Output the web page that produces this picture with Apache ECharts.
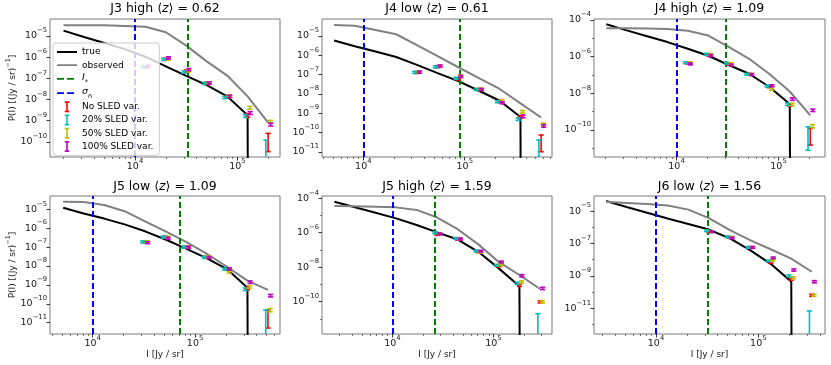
<!DOCTYPE html>
<html>
<head>
<meta charset="utf-8">
<script src="https://cdn.jsdelivr.net/npm/echarts@6/dist/echarts.min.js"></script>
<style>
  html, body { margin: 0; padding: 0; background: #fff; }
  #chart { width: 831px; height: 365px; }
</style>
</head>
<body>
<div id="chart"></div>
<script>
// ---- values (one row per panel) ----
const panelNames = ['J3 high', 'J4 low', 'J4 high', 'J5 low', 'J5 high', 'J6 low'];
const meanZ = ['0.62', '0.61', '1.09', '1.09', '1.59', '1.56'];

// intensity bins, Jy/sr
const binI = [
  [2000, 3170, 5020, 7960, 12600, 20000, 31700, 50200, 79600, 126000, 200000],
  [5150, 8240, 13200, 21100, 33800, 54000, 86400, 138000, 221000, 354000, 566000],
  [2050, 3250, 5150, 8150, 12900, 20500, 32500, 51500, 81500, 129000, 205000],
  [5150, 8170, 12950, 20500, 32500, 51500, 81700, 129500, 205000, 325000, 516000],
  [2670, 4270, 6820, 10900, 17400, 27800, 44400, 71000, 113000, 181000, 290000],
  [3250, 5160, 8200, 13000, 20700, 32900, 52300, 83100, 132000, 210000, 333000]
];
// P(I) true
const pTrue = [
  [1.8e-5, 8.9e-6, 4.7e-6, 2.4e-6, 1.05e-6, 3.7e-7, 1.3e-7, 4.8e-8, 1.4e-8, 1.8e-9, 0],
  [5.8e-6, 2.95e-6, 1.58e-6, 8.1e-7, 3.2e-7, 1.2e-7, 4.6e-8, 1.45e-8, 4.4e-9, 6.3e-10, 0],
  [5.8e-5, 2.7e-5, 1.3e-5, 6.2e-6, 2.7e-6, 1.12e-6, 3.5e-7, 1.17e-7, 2.2e-8, 2.6e-9, 0],
  [1.2e-5, 6.0e-6, 3.2e-6, 1.58e-6, 6.8e-7, 2.5e-7, 8.3e-8, 2.6e-8, 6.8e-9, 7.1e-10, 0],
  [6.3e-5, 3.0e-5, 1.45e-5, 6.8e-6, 2.8e-6, 1.05e-6, 4.0e-7, 7.8e-8, 8.5e-9, 7.9e-10, 0],
  [4.2e-5, 1.8e-5, 7.9e-6, 3.5e-6, 1.58e-6, 7.2e-7, 2.1e-7, 3.9e-8, 5.5e-9, 4.4e-10, 0]
];
// P(I) observed
const pObs = [
  [3.2e-5, 3.2e-5, 3.2e-5, 3.0e-5, 2.75e-5, 1.5e-5, 3.5e-6, 6.3e-7, 1.35e-7, 1.4e-8, 8e-10],
  [3.7e-5, 3.4e-5, 2.05e-5, 1.23e-5, 3.4e-6, 9.1e-7, 2.4e-7, 6.6e-8, 1.8e-8, 3.2e-9, 6.0e-10],
  [3.5e-5, 3.5e-5, 3.4e-5, 3.2e-5, 2.6e-5, 1.4e-5, 3.4e-6, 7.6e-7, 1.12e-7, 1.26e-8, 6.3e-10],
  [2.5e-5, 2.4e-5, 1.66e-5, 7.9e-6, 2.3e-6, 6.8e-7, 1.86e-7, 4.5e-8, 9.1e-9, 1.66e-9, 5.4e-10],
  [3.5e-5, 3.4e-5, 3.2e-5, 2.95e-5, 2.1e-5, 7.6e-6, 1.6e-6, 2.1e-7, 2.0e-8, 3.5e-9, 5.4e-10],
  [3.7e-5, 3.2e-5, 2.75e-5, 2.2e-5, 1.23e-5, 3.7e-6, 6.9e-7, 1.6e-7, 4.4e-8, 1.17e-8, 1.8e-9]
];
const iStar = [33200, 89800, 29900, 71300, 26500, 32500];
const sigmaN = [1e4, 1e4, 1e4, 1e4, 1e4, 1e4];

// error bars start at this bin index
const errFrom = [4, 4, 4, 4, 5, 5];
const sledNone = [
  [3.5e-7, 8.1e-7, 2.2e-7, 5.8e-8, 1.35e-8, 1.8e-9, 1.42e-10],
  [1.3e-7, 2.6e-7, 6.0e-8, 1.7e-8, 4.0e-9, 6.5e-10, 4.2e-11],
  [4.5e-7, 1.3e-6, 4.0e-7, 1.1e-7, 2.3e-8, 2.35e-9, 6.9e-11],
  [1.9e-7, 3.4e-7, 1.0e-7, 2.9e-8, 7.0e-9, 6.6e-10, 2.6e-11],
  [8.0e-7, 4.2e-7, 8.0e-8, 1.2e-8, 9.1e-10, 9.8e-11],
  [5.5e-7, 2.4e-7, 5.7e-8, 6.8e-9, 6.3e-10, 6.4e-11]
];
const sledNoneRel = [
  [0.12, 0.12, 0.12, 0.12, 0.12, 0.2, 0.76],
  [0.12, 0.12, 0.12, 0.12, 0.12, 0.15, 0.76],
  [0.12, 0.12, 0.12, 0.12, 0.12, 0.15, 0.78],
  [0.12, 0.12, 0.12, 0.12, 0.12, 0.15, 0.8],
  [0.12, 0.12, 0.12, 0.12, 0.15, 0.15],
  [0.12, 0.12, 0.12, 0.12, 0.15, 0.15]
];
const sled20 = [
  [3.5e-7, 7.9e-7, 2.0e-7, 5.8e-8, 1.25e-8, 1.65e-9, 6e-11],
  [1.3e-7, 2.5e-7, 6.5e-8, 1.7e-8, 4.0e-9, 5.0e-10, 2.05e-11],
  [4.7e-7, 1.35e-6, 4.4e-7, 1.1e-7, 2.5e-8, 2.6e-9, 7.9e-11],
  [1.9e-7, 3.4e-7, 1.0e-7, 2.9e-8, 6.9e-9, 5.9e-10, 2.35e-11],
  [1.0e-6, 4.7e-7, 8.7e-8, 1.3e-8, 1.15e-9, 1.0e-11],
  [6.2e-7, 2.6e-7, 5.8e-8, 8.5e-9, 1.0e-9, 3.4e-12]
];
const sled20Rel = [
  [0.12, 0.12, 0.12, 0.12, 0.12, 0.15, 1.0],
  [0.12, 0.12, 0.12, 0.12, 0.12, 0.15, 1.0],
  [0.12, 0.12, 0.12, 0.12, 0.12, 0.15, 0.9],
  [0.12, 0.12, 0.12, 0.12, 0.12, 0.15, 1.0],
  [0.12, 0.12, 0.12, 0.12, 0.15, 1.0],
  [0.12, 0.12, 0.12, 0.12, 0.15, 1.0]
];
const sled50 = [
  [3.6e-7, 8.3e-7, 2.3e-7, 6.0e-8, 1.5e-8, 4.1e-9, 8.9e-10],
  [1.35e-7, 2.7e-7, 8.5e-8, 1.8e-8, 4.6e-9, 1.2e-9, 2.7e-10],
  [4.6e-7, 1.3e-6, 4.2e-7, 1.1e-7, 1.65e-8, 2.5e-9, 1.65e-10],
  [1.9e-7, 3.4e-7, 1.05e-7, 3.0e-8, 4.7e-9, 7.9e-10, 4.7e-11],
  [8.5e-7, 4.3e-7, 7.5e-8, 1.4e-8, 1.4e-9, 9.8e-11],
  [5.5e-7, 2.4e-7, 5.8e-8, 9.1e-9, 7.8e-10, 6.4e-11]
];
const sled50Rel = [
  [0.12, 0.12, 0.12, 0.12, 0.12, 0.15, 0.15],
  [0.12, 0.12, 0.12, 0.12, 0.12, 0.15, 0.15],
  [0.12, 0.12, 0.12, 0.12, 0.12, 0.15, 0.2],
  [0.12, 0.12, 0.12, 0.12, 0.12, 0.15, 0.2],
  [0.12, 0.12, 0.12, 0.12, 0.15, 0.15],
  [0.12, 0.12, 0.12, 0.12, 0.15, 0.15]
];
const sled100 = [
  [3.7e-7, 9.3e-7, 2.6e-7, 6.0e-8, 1.4e-8, 2.3e-9, 6.6e-10],
  [1.35e-7, 2.8e-7, 8.0e-8, 1.7e-8, 3.5e-9, 7.0e-10, 2.2e-10],
  [4.0e-7, 1.15e-6, 3.5e-7, 1.05e-7, 2.6e-8, 4.9e-9, 1.2e-9],
  [1.7e-7, 2.9e-7, 1.0e-7, 2.8e-8, 7.0e-9, 1.4e-9, 2.7e-10],
  [8.5e-7, 4.3e-7, 8.5e-8, 2.0e-8, 3.2e-9, 5.9e-10],
  [5.3e-7, 2.2e-7, 5.7e-8, 1.3e-8, 2.3e-9, 4.4e-10]
];
const sled100Rel = [
  [0.12, 0.12, 0.12, 0.12, 0.12, 0.15, 0.15],
  [0.12, 0.12, 0.12, 0.12, 0.12, 0.15, 0.15],
  [0.12, 0.12, 0.12, 0.12, 0.12, 0.15, 0.15],
  [0.12, 0.12, 0.12, 0.12, 0.12, 0.15, 0.15],
  [0.12, 0.12, 0.12, 0.12, 0.15, 0.15],
  [0.12, 0.12, 0.12, 0.12, 0.15, 0.15]
];

// tick labels (powers of ten)
const xTickExp = [4, 5];
const yTickExp = [
  [-10, -9, -8, -7, -6, -5],
  [-11, -10, -9, -8, -7, -6, -5],
  [-10, -8, -6, -4],
  [-11, -10, -9, -8, -7, -6, -5],
  [-10, -8, -6, -4],
  [-11, -9, -7, -5]
];

// ---- layout ----
const FONT = 'DejaVu Sans';
const gridBox = [
  { left: 50, top: 19, width: 230, height: 138 },
  { left: 322, top: 19, width: 230, height: 138 },
  { left: 594, top: 19, width: 231, height: 138 },
  { left: 50, top: 196, width: 230, height: 138 },
  { left: 322, top: 196, width: 230, height: 138 },
  { left: 594, top: 196, width: 231, height: 138 }
];
// axis extents in decades
const xLogRange = [[3.169, 5.417], [3.593, 5.86], [3.191, 5.456], [3.583, 5.83], [3.304, 5.58], [3.394, 5.652]];
const yLogRange = [[-10.72, -4.196], [-11.27, -4.12], [-11.47, -3.95], [-11.6, -4.30], [-11.88, -3.87], [-12.59, -4.07]];

const errSets = [
  { name: 'No SLED var.', color: '#ff0000', shift: 1.0, vals: sledNone, rel: sledNoneRel },
  { name: '20% SLED var.', color: '#00bfbf', shift: 0.95, vals: sled20, rel: sled20Rel },
  { name: '50% SLED var.', color: '#bfbf00', shift: 1.05, vals: sled50, rel: sled50Rel },
  { name: '100% SLED var.', color: '#bf00bf', shift: 1.06, vals: sled100, rel: sled100Rel }
];

const lg = v => (v > 0 ? Math.log10(v) : -300);
const expText = e => (e < 0 ? '\u2212' + (-e) : String(e));
const powLabel = v => '{b|10}{s|' + expText(Math.round(v)) + '}';

const supRich = {
  b: { fontFamily: FONT, fontSize: 9.5, color: '#1a1a1a', padding: [4, 0, 4, 0] },
  s: { fontFamily: FONT, fontSize: 6.8, color: '#1a1a1a', verticalAlign: 'top' }
};

function minorX(lo, hi) {
  const out = [];
  for (let n = Math.floor(lo); n <= Math.ceil(hi); n++) {
    for (let k = 2; k <= 9; k++) {
      const v = n + Math.log10(k);
      if (v > lo && v < hi) out.push(v);
    }
  }
  return out;
}
function minorY(p) {
  const out = [];
  const [lo, hi] = yLogRange[p];
  for (let n = Math.ceil(lo); n <= Math.floor(hi); n++) {
    if (!yTickExp[p].includes(n)) out.push(n);
  }
  return out;
}

function errorBarItem(params, api) {
  const lx = api.value(0), ly = api.value(1), rel = api.value(2);
  const cs = params.coordSys;
  const top = api.coord([lx, ly + Math.log10(1 + rel)]);
  const hasLow = rel < 1;
  const lowY = hasLow ? api.coord([lx, ly + Math.log10(1 - rel)])[1] : cs.y + cs.height;
  const st = { stroke: api.visual('color'), lineWidth: 1.6 };
  const cap = 2.6;
  const kids = [
    { type: 'line', shape: { x1: top[0], y1: top[1], x2: top[0], y2: lowY }, style: st },
    { type: 'line', shape: { x1: top[0] - cap, y1: top[1], x2: top[0] + cap, y2: top[1] }, style: st }
  ];
  if (hasLow) kids.push({ type: 'line', shape: { x1: top[0] - cap, y1: lowY, x2: top[0] + cap, y2: lowY }, style: st });
  return { type: 'group', children: kids };
}

const xAxes = [], yAxes = [], series = [], titles = [];
for (let p = 0; p < 6; p++) {
  const g = gridBox[p];
  const bottomRow = p >= 3;
  titles.push({
    text: '{t|' + panelNames[p] + ' \u27E8}{z|z}{t|\u27E9 = ' + meanZ[p] + '}',
    left: g.left + g.width / 2, top: bottomRow ? 180 : 2, textAlign: 'center', padding: 0,
    textStyle: { fontWeight: 'normal', rich: {
      t: { fontFamily: FONT, fontSize: 12.5, color: '#000', fontWeight: 'normal' },
      z: { fontFamily: FONT, fontSize: 12.5, color: '#000', fontWeight: 'normal', fontStyle: 'italic' }
    } }
  });
  xAxes.push({
    type: 'value', gridIndex: p, position: 'bottom', min: xLogRange[p][0], max: xLogRange[p][1],
    axisLine: { show: false, onZero: false }, splitLine: { show: false },
    axisTick: { show: true, customValues: xTickExp, length: 3.5, lineStyle: { color: '#333', width: 1 } },
    axisLabel: { customValues: xTickExp, formatter: powLabel, margin: 1, rich: supRich },
    name: bottomRow ? 'I [Jy / sr]' : '', nameLocation: 'middle', nameGap: 14,
    nameTextStyle: { fontFamily: FONT, fontSize: 9, color: '#1a1a1a' }
  });
  yAxes.push({
    type: 'value', gridIndex: p, position: 'left', min: yLogRange[p][0], max: yLogRange[p][1],
    axisLine: { show: false, onZero: false }, splitLine: { show: false },
    axisTick: { show: true, customValues: yTickExp[p], length: 3.5, lineStyle: { color: '#333', width: 1 } },
    axisLabel: { customValues: yTickExp[p], formatter: powLabel, margin: 3, rich: supRich },
    name: (p === 0 || p === 3) ? '{a|P(I) [(Jy / sr)}{s|\u22121}{a|]}' : '',
    nameLocation: 'middle', nameGap: 33, nameRotate: 90,
    nameTextStyle: { rich: {
      a: { fontFamily: FONT, fontSize: 9, color: '#1a1a1a', padding: [3, 0, 0, 0] },
      s: { fontFamily: FONT, fontSize: 6.5, color: '#1a1a1a', verticalAlign: 'top' }
    } }
  });

  const lx = binI[p].map(v => Math.log10(v));
  series.push({
    name: 'true', type: 'line', xAxisIndex: p, yAxisIndex: p, clip: true, symbol: 'none', z: 3,
    data: lx.map((x, i) => [x, lg(pTrue[p][i])]),
    lineStyle: { color: '#000', width: 2 }, itemStyle: { color: '#000' }
  });
  series.push({
    name: 'observed', type: 'line', xAxisIndex: p, yAxisIndex: p, clip: true, symbol: 'none', z: 3,
    data: lx.map((x, i) => [x, lg(pObs[p][i])]),
    lineStyle: { color: '#808080', width: 2 }, itemStyle: { color: '#808080' }
  });
  [['I*', iStar[p], '#008000'], ['\u03C3n', sigmaN[p], '#0000ff']].forEach(([nm, v, c]) => {
    series.push({
      name: nm, type: 'line', xAxisIndex: p, yAxisIndex: p, data: [], symbol: 'none', z: 4,
      lineStyle: { color: c, width: 2, type: [6, 3] }, itemStyle: { color: c },
      markLine: {
        silent: true, symbol: 'none', label: { show: false }, animation: false,
        lineStyle: { color: c, width: 2, type: [6, 3] },
        data: [{ xAxis: Math.log10(v) }]
      }
    });
  });
  errSets.forEach(set => {
    series.push({
      name: set.name, type: 'custom', xAxisIndex: p, yAxisIndex: p, clip: true, z: 5,
      renderItem: errorBarItem, itemStyle: { color: set.color },
      encode: { x: 0, y: 1 },
      data: set.vals[p].map((v, i) => [Math.log10(binI[p][errFrom[p] + i] * set.shift), Math.log10(v), set.rel[p][i]])
    });
  });
}
// minor tick axes, overlaid on each panel
for (let p = 0; p < 6; p++) {
  xAxes.push({
    type: 'value', gridIndex: p, position: 'bottom', min: xLogRange[p][0], max: xLogRange[p][1],
    axisLine: { show: false, onZero: false }, splitLine: { show: false }, axisLabel: { show: false },
    axisTick: { show: true, customValues: minorX(xLogRange[p][0], xLogRange[p][1]), length: 2, lineStyle: { color: '#555', width: 0.8 } }
  });
  yAxes.push({
    type: 'value', gridIndex: p, position: 'left', min: yLogRange[p][0], max: yLogRange[p][1],
    axisLine: { show: false, onZero: false }, splitLine: { show: false }, axisLabel: { show: false },
    axisTick: { show: true, customValues: minorY(p), length: 2, lineStyle: { color: '#555', width: 0.8 } }
  });
}

// legend handles (bounding corners keep the 20x12 box)
const box = 'M0,0L0.01,0L0,0.01Z M20,12L19.99,12L20,11.99Z ';
const errIcon = 'path://' + box + 'M7.7,0.5H12.3V2.1H10.8V9.9H12.3V11.5H7.7V9.9H9.2V2.1H7.7Z';
const solidIcon = 'path://' + box + 'M0,5.1H20V6.9H0Z';
const dashIcon = 'path://' + box + 'M0,5.1H7V6.9H0Z M10,5.1H17V6.9H10Z';

const chart = echarts.init(document.getElementById('chart'), null, { renderer: 'canvas' });
chart.setOption({
  animation: false,
  backgroundColor: '#fff',
  title: titles,
  legend: {
    orient: 'vertical', left: 53, top: 43, z: 10,
    itemWidth: 20, itemHeight: 12, itemGap: 1.2,
    padding: [3, 6, 3, 4], selectedMode: false,
    backgroundColor: 'rgba(255,255,255,0.8)', borderColor: '#cccccc', borderWidth: 1, borderRadius: 3,
    data: [
      { name: 'true', icon: solidIcon }, { name: 'observed', icon: solidIcon },
      { name: 'I*', icon: dashIcon }, { name: '\u03C3n', icon: dashIcon },
      { name: 'No SLED var.', icon: errIcon }, { name: '20% SLED var.', icon: errIcon },
      { name: '50% SLED var.', icon: errIcon }, { name: '100% SLED var.', icon: errIcon }
    ],
    formatter: name => name === 'I*' ? '{li|I}{sub|*}' : (name === '\u03C3n' ? '{li|\u03C3}{sub|n}' : name),
    textStyle: {
      fontFamily: FONT, fontSize: 9, color: '#000',
      rich: {
        li: { fontFamily: FONT, fontSize: 9.5, fontStyle: 'italic', color: '#000', padding: [0, 0, 3, 0] },
        sub: { fontFamily: FONT, fontSize: 6.5, color: '#000', verticalAlign: 'bottom' }
      }
    }
  },
  grid: gridBox.map(g => Object.assign({ show: true, borderColor: '#7a7a7a', borderWidth: 1, backgroundColor: 'transparent' }, g)),
  xAxis: xAxes,
  yAxis: yAxes,
  series: series
});
</script>
</body>
</html>
